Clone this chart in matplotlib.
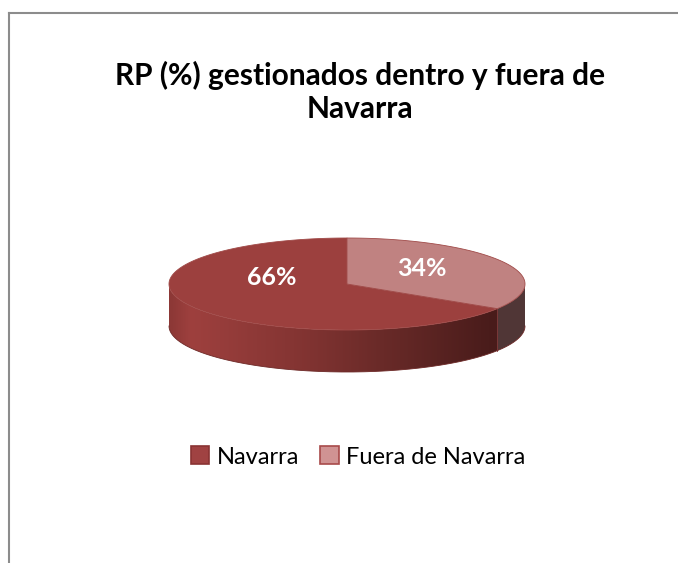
import numpy as np
import matplotlib
matplotlib.use("Agg")
import matplotlib.pyplot as plt
from matplotlib.patches import Polygon, Rectangle
from matplotlib.lines import Line2D
from matplotlib.colors import LinearSegmentedColormap

# ---- data ----
categories = ["Navarra", "Fuera de Navarra"]
values = [66, 34]
labels = ["66%", "34%"]
title = "RP (%) gestionados dentro y fuera de\nNavarra"

top_colors = ["#9c403e", "#c08281"]
legend_colors = ["#a04242", "#d09393"]
legend_edges = ["#8a3333", "#a84a4a"]

plt.rcParams['font.family'] = ['Lato', 'DejaVu Sans']

W, H = 678, 563
fig = plt.figure(figsize=(W / 100, H / 100), dpi=100)

# chart frame (left & top border only visible)
fig.add_artist(Line2D([9 / W, 9 / W], [0, 1 - 13 / H], color='#8c8c8c', lw=1.5))
fig.add_artist(Line2D([9 / W, 1], [1 - 13 / H, 1 - 13 / H], color='#8c8c8c', lw=1.5))

fig.text(360 / W, 1 - 92 / H, title, ha='center', va='center',
         fontsize=21.5, fontweight='bold', linespacing=1.2, color='black')

# ---- 3D pie ----
PX = 178.0          # pixels per unit
CX, CY = 347, 284   # centre of top ellipse in pixels
x0, x1, y0, y1 = 150, 545, 225, 385
ax = fig.add_axes([x0 / W, 1 - y1 / H, (x1 - x0) / W, (y1 - y0) / H])
ax.set_xlim((x0 - CX) / PX, (x1 - CX) / PX)
ax.set_ylim((CY - y1) / PX, (CY - y0) / PX)
ax.axis('off')

b = 46 / PX   # minor semi-axis of top ellipse
d = 42 / PX   # depth of pie

fracs = np.array(values, dtype=float) / sum(values)
# Navarra counter-clockwise from 12 o'clock, Fuera clockwise from 12 o'clock
spans = fracs * 360.0
ranges = [(90.0, 90.0 + spans[0]), (90.0 - spans[1], 90.0)]


def front_part(t1, t2):
    """Return parts of [t1, t2] where the side wall is visible (sin<0)."""
    parts = []
    for k in range(-2, 3):
        a, bb = 180 + 360 * k, 360 + 360 * k
        lo, hi = max(t1, a), min(t2, bb)
        if hi > lo:
            parts.append((lo, hi))
    return parts


side_cmap = LinearSegmentedColormap.from_list(
    "side", [(0.0, "#8c3836"), (0.06, "#9e403e"), (0.35, "#853533"),
             (0.65, "#642826"), (0.9, "#4a1c1b"), (1.0, "#461b1a")])
side_cmap2 = LinearSegmentedColormap.from_list(
    "side2", [(0.0, "#5a3e3e"), (1.0, "#503636")])
cmaps = [side_cmap, side_cmap2]

for i, (t1, t2) in enumerate(ranges):
    for lo, hi in front_part(t1, t2):
        t = np.radians(np.linspace(lo, hi, 200))
        top = np.column_stack([np.cos(t), b * np.sin(t)])
        bot = np.column_stack([np.cos(t[::-1]), b * np.sin(t[::-1]) - d])
        poly = Polygon(np.vstack([top, bot]), closed=True, facecolor='none',
                       edgecolor='none')
        ax.add_patch(poly)
        grad = np.linspace(0, 1, 400).reshape(1, -1)
        im = ax.imshow(grad, cmap=cmaps[i], aspect='auto',
                       extent=[-1, 1, -b - d - 0.01, b + 0.01],
                       interpolation='bilinear', zorder=1)
        im.set_clip_path(poly)
        ax.plot(np.cos(t), b * np.sin(t) - d, color='#6e2a28', lw=0.6, zorder=2)

# divider edge between side walls
tb = np.radians(ranges[1][0])
ax.plot([np.cos(tb)] * 2, [b * np.sin(tb), b * np.sin(tb) - d],
        color='#7a3030', lw=0.6, zorder=2)

for i, (t1, t2) in enumerate(ranges):
    t = np.radians(np.linspace(t1, t2, 300))
    pts = np.vstack([[0, 0], np.column_stack([np.cos(t), b * np.sin(t)])])
    ax.add_patch(Polygon(pts, closed=True, facecolor=top_colors[i],
                         edgecolor='#a04a48', lw=0.6, zorder=3))

for i, (t1, t2) in enumerate(ranges):
    mid = np.radians((t1 + t2) / 2)
    ax.text(0.48 * np.cos(mid), 0.06 + 0.053 * np.sin(mid), labels[i],
            ha='center', va='center', color='white', fontsize=18,
            fontweight='bold', zorder=5)

# ---- legend ----
handles = [Rectangle((0, 0), 1, 1, facecolor=legend_colors[i],
                     edgecolor=legend_edges[i], lw=1.2) for i in range(2)]
fig.legend(handles, categories, loc='center', bbox_to_anchor=(358 / W, 1 - 457 / H),
           ncol=2, frameon=False, fontsize=17, handlelength=0.8,
           handleheight=0.8, handletextpad=0.3, columnspacing=0.9,
           borderaxespad=0)

fig.savefig("out.png", dpi=100)
